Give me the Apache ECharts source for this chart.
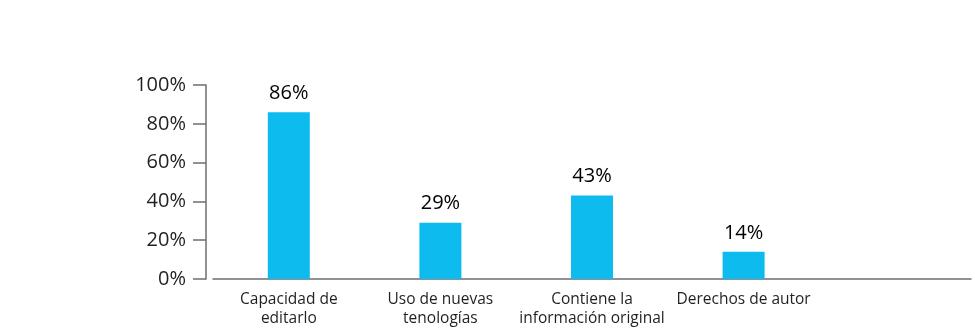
<!DOCTYPE html>
<html lang="es">
<head>
    <meta charset="UTF-8">
    <title>Bar chart</title>
    <script src="https://cdn.jsdelivr.net/npm/echarts@6/dist/echarts.min.js"></script>
    <style>
        html, body, #chart {
            width: 975px;
            height: 332px;
            padding: 0;
            margin: 0;
            background: #fff;
        }
    </style>
</head>
<body>
<div id="chart"></div>
<script>
    var categories = ["Capacidad de\neditarlo", "Uso de nuevas\ntenologías", "Contiene la\ninformación original", "Derechos de autor", ""];
    var values = [86, 29, 43, 14, null];

    var axisColor = "#6d6e71";
    var textColor = "#231f20";
    var font = "Open Sans";

    var myChart = echarts.init(document.getElementById("chart"));
    myChart.setOption({
        animation: false,
        grid: {
            left: 213,
            right: 4,
            top: 85,
            bottom: 53
        },
        xAxis: {
            type: "category",
            data: categories,
            boundaryGap: true,
            axisLine: {lineStyle: {color: axisColor, width: 1.5}},
            axisTick: {length: 6, lineStyle: {color: axisColor, width: 1.5}},
            axisLabel: {
                color: textColor,
                fontFamily: font,
                fontSize: 15.5,
                lineHeight: 19,
                margin: 11,
                interval: 0
            }
        },
        yAxis: {
            type: "value",
            min: 0,
            max: 100,
            interval: 20,
            offset: 7,
            axisLine: {show: true, lineStyle: {color: axisColor, width: 1.5}},
            axisTick: {show: true, length: 13, lineStyle: {color: axisColor, width: 1.5}},
            splitLine: {show: false},
            axisLabel: {
                color: textColor,
                fontFamily: font,
                fontSize: 20,
                margin: 20,
                formatter: "{value}%"
            }
        },
        series: [{
            type: "bar",
            data: values,
            barWidth: 42,
            itemStyle: {color: "#0dbbee"},
            label: {
                show: true,
                position: "top",
                distance: 9,
                color: "#000",
                fontFamily: font,
                fontSize: 20,
                formatter: "{c}%"
            }
        }]
    });
</script>
</body>
</html>
